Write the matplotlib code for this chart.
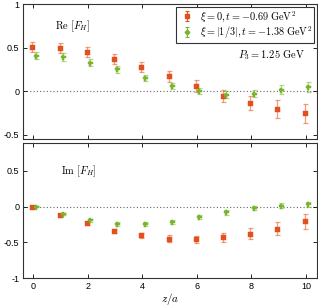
import numpy as np
import matplotlib
matplotlib.use("Agg")
import matplotlib.pyplot as plt

plt.rcParams['mathtext.fontset'] = 'cm'
plt.rcParams['font.family'] = ['Liberation Sans', 'DejaVu Sans']

z = np.arange(11)
re_red = [0.505, 0.495, 0.45, 0.37, 0.28, 0.17, 0.06, -0.05, -0.13, -0.20, -0.25]
re_red_err = [0.055, 0.055, 0.055, 0.055, 0.057, 0.06, 0.065, 0.07, 0.08, 0.10, 0.11]
re_green = [0.41, 0.39, 0.33, 0.25, 0.15, 0.06, 0.0, -0.04, -0.03, 0.02, 0.05]
re_green_err = [0.045, 0.045, 0.04, 0.035, 0.035, 0.035, 0.035, 0.04, 0.04, 0.05, 0.055]
im_red = [0.0, -0.12, -0.235, -0.335, -0.40, -0.445, -0.455, -0.43, -0.375, -0.31, -0.205]
im_red_err = [0.01, 0.02, 0.025, 0.03, 0.035, 0.045, 0.05, 0.06, 0.075, 0.09, 0.10]
im_green = [0.0, -0.105, -0.19, -0.24, -0.245, -0.215, -0.145, -0.08, -0.02, 0.015, 0.035]
im_green_err = [0.01, 0.015, 0.02, 0.03, 0.03, 0.03, 0.03, 0.03, 0.03, 0.03, 0.035]

labels = [r'$\xi=0, t=-0.69\ \mathrm{GeV}^2$', r'$\xi=|1/3|, t=-1.38\ \mathrm{GeV}^2$']
red = '#e4501c'
green = '#77b52c'

fig = plt.figure(figsize=(3.18, 3.08), dpi=100)
ax1 = fig.add_axes([0.0733, 0.549, 0.9227, 0.438])
ax2 = fig.add_axes([0.0733, 0.0964, 0.9227, 0.4386])

def draw(ax, yr, er, yg, eg):
    ax.axhline(0, color='#666666', ls=(0, (1, 2)), lw=0.8, zorder=1)
    for y, e, c, m, ms, off in [(yr, er, red, 's', 3.6, -0.04),
                                (yg, eg, green, 'P', 3.6, 0.08)]:
        ax.errorbar(z + off, y, yerr=e, fmt='none', ecolor=c, alpha=0.55,
                    elinewidth=0.9, capsize=1.8, capthick=0.9, zorder=2)
        ax.plot(z + off, y, ls='none', marker=m, ms=ms, color=c, mec=c, mew=0.3,
                zorder=3)
    ax.set_xlim(-0.37, 10.4)
    ax.set_xticks([0, 2, 4, 6, 8, 10])
    ax.tick_params(direction='in', top=True, right=True, length=3, width=0.6,
                   labelsize=6.5, pad=3)
    for s in ax.spines.values():
        s.set_linewidth(0.8)
        s.set_color('#333333')

draw(ax1, re_red, re_red_err, re_green, re_green_err)
draw(ax2, im_red, im_red_err, im_green, im_green_err)

# legend handles (errorbar style, drawn off-axes)
h1 = ax1.errorbar([np.nan], [np.nan], yerr=[0.05], fmt='s', ms=3.0, color=red,
                  ecolor=red, elinewidth=0.8, capsize=1.5, capthick=0.8)
h2 = ax1.errorbar([np.nan], [np.nan], yerr=[0.05], fmt='P', ms=3.0, color=green,
                  ecolor=green, elinewidth=0.8, capsize=1.5, capthick=0.8)

ax1.set_ylim(-0.545, 1.0)
ax1.set_yticks([-0.5, 0, 0.5, 1])
ax1.set_yticklabels(['-0.5', '0', '0.5', '1'])
ax1.tick_params(labelbottom=False)
ax2.set_ylim(-1.0, 0.885)
ax2.set_yticks([-1, -0.5, 0, 0.5])
ax2.set_yticklabels(['-1', '-0.5', '0', '0.5'])
ax2.set_xlabel(r'$z/a$', fontsize=8, labelpad=0)

ax1.text(0.8, 0.75, r'$\mathrm{Re}\ [F_H]$', fontsize=7.5, va='center', ha='left')
ax2.text(1.0, 0.5, r'$\mathrm{Im}\ [F_H]$', fontsize=7.5, va='center', ha='left')
ax1.text(7.5, 0.41, r'$P_3=1.25\ \mathrm{GeV}$', fontsize=7.5, va='center', ha='left')

leg = ax1.legend([h1, h2], labels, loc='upper right', fontsize=7.4, frameon=True,
                 fancybox=False, edgecolor='#333333', handlelength=1.6,
                 handletextpad=0.5, borderpad=0.2, labelspacing=0.05,
                 borderaxespad=0.25, framealpha=1)
leg.get_frame().set_linewidth(0.8)

fig.savefig('out.png', dpi=100)
